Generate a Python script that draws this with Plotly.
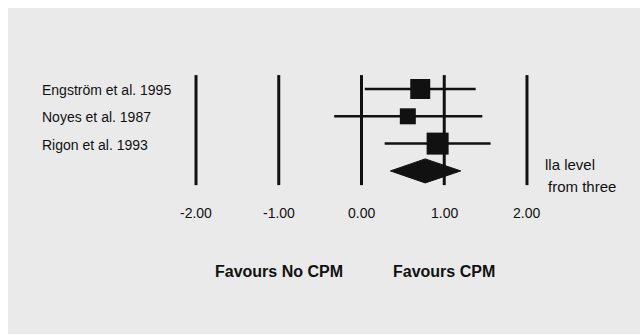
import plotly.graph_objects as go

# Meta-analysis data: effect sizes with 95% confidence intervals
studies = ["Engström et al. 1995", "Noyes et al. 1987", "Rigon et al. 1993"]
effect = [0.71, 0.56, 0.92]
ci_low = [0.04, -0.33, 0.28]
ci_high = [1.38, 1.46, 1.56]

# Pooled estimate
pooled_effect = 0.77
pooled_low = 0.35
pooled_high = 1.20

tick_values = [-2.0, -1.0, 0.0, 1.0, 2.0]
tick_labels = ["-2.00", "-1.00", "0.00", "1.00", "2.00"]
side_labels = ["Favours No CPM", "Favours CPM"]
side_label_x = [-1.0, 1.0]
note_lines = ["lla level", "from three"]

INK = "#111111"
FONT = "Liberation Sans, Arial, sans-serif"

fig = go.Figure()

# Reference lines at each tick value
for tv in tick_values:
    fig.add_trace(go.Scatter(
        x=[tv, tv], y=[-0.51, 3.52], mode="lines",
        line=dict(color=INK, width=3), hoverinfo="skip", showlegend=False))

# Confidence interval whiskers
for i in range(len(studies)):
    fig.add_trace(go.Scatter(
        x=[ci_low[i], ci_high[i]], y=[i, i], mode="lines",
        line=dict(color=INK, width=2.5), hoverinfo="skip", showlegend=False))

# Point estimates as weighted squares
marker_px = [20, 16, 22]
fig.add_trace(go.Scatter(
    x=effect, y=list(range(len(studies))), mode="markers",
    marker=dict(symbol="square", size=marker_px, color=INK, opacity=1,
                line=dict(width=0)),
    hoverinfo="skip", showlegend=False))

# Pooled diamond
row = len(studies)
half = 0.44
fig.add_trace(go.Scatter(
    x=[pooled_low, pooled_effect, pooled_high, pooled_effect, pooled_low],
    y=[row, row - half, row, row + half, row],
    mode="lines", fill="toself", fillcolor=INK,
    line=dict(color=INK, width=1), hoverinfo="skip", showlegend=False))

annotations = []
for i, name in enumerate(studies):
    annotations.append(dict(
        x=-3.885, y=i, xref="x", yref="y", text=name, showarrow=False,
        xanchor="left", yanchor="middle", yshift=-1,
        font=dict(family=FONT, size=14, color=INK)))

for tv, tl in zip(tick_values, tick_labels):
    annotations.append(dict(
        x=tv, y=4.54, xref="x", yref="y", text=tl, showarrow=False,
        xanchor="center", yanchor="middle",
        font=dict(family=FONT, size=14, color=INK)))

for sx, st in zip(side_label_x, side_labels):
    annotations.append(dict(
        x=sx, y=6.69, xref="x", yref="y", text="<b>" + st + "</b>",
        showarrow=False, xanchor="center", yanchor="middle",
        font=dict(family=FONT, size=16, color=INK)))

annotations.append(dict(
    x=2.195, y=2.75, xref="x", yref="y", text=note_lines[0], showarrow=False,
    xanchor="left", yanchor="middle", font=dict(family=FONT, size=15, color=INK)))
annotations.append(dict(
    x=2.225, y=3.58, xref="x", yref="y", text=note_lines[1], showarrow=False,
    xanchor="left", yanchor="middle", font=dict(family=FONT, size=15, color=INK)))

fig.update_layout(
    width=640, height=335,
    margin=dict(l=0, r=0, t=0, b=0),
    paper_bgcolor="white", plot_bgcolor="rgba(0,0,0,0)",
    xaxis=dict(range=[-4.369, 3.366], visible=False, fixedrange=True),
    yaxis=dict(range=[9.01, -3.26], visible=False, fixedrange=True),
    annotations=annotations,
    shapes=[dict(type="rect", xref="paper", yref="paper",
                 x0=8 / 640, x1=1, y0=1 / 335, y1=1 - 8 / 335,
                 fillcolor="#eaeaea", line=dict(width=0), layer="below")],
)

fig.write_html("out.html")
